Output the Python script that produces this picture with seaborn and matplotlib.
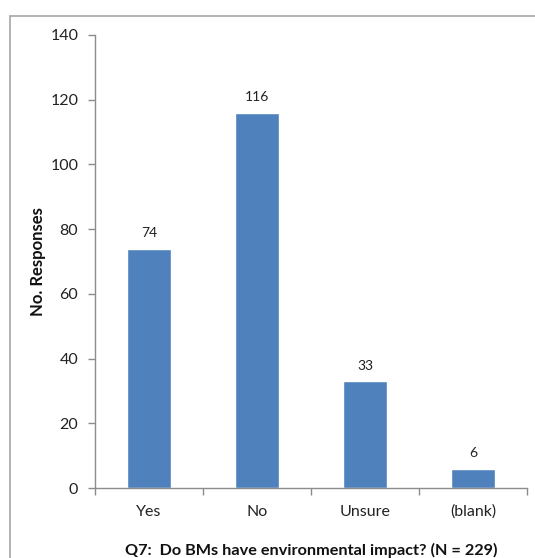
import matplotlib
matplotlib.use("Agg")
import matplotlib.pyplot as plt
from matplotlib.patches import Rectangle
import seaborn as sns
import pandas as pd

categories = ["Yes", "No", "Unsure", "(blank)"]
responses = [74, 116, 33, 6]
y_ticks = [0, 20, 40, 60, 80, 100, 120, 140]

sns.set_theme(style="white")
plt.rcParams["font.family"] = ["Lato", "DejaVu Sans"]

df = pd.DataFrame({"answer": categories, "count": responses})

fig = plt.figure(figsize=(5.35, 5.58), dpi=100)
ax = fig.add_axes([95 / 535, 1 - 488 / 558, (527 - 95) / 535, (488 - 35) / 558])

sns.barplot(data=df, x="answer", y="count", color="#4F81BD", saturation=1,
            width=0.4, ax=ax)

for i, v in enumerate(responses):
    ax.text(i, v + 3, str(v), ha="center", va="bottom", fontsize=10, color="#222222")

ax.set_xlim(-0.5, len(categories) - 0.5)
ax.set_ylim(0, 140)
ax.set_yticks(y_ticks)
ax.set_yticklabels([str(t) for t in y_ticks], fontsize=11.5, color="#222222")

# category labels between the boundary tick marks
ax.set_xticks([i - 0.5 for i in range(len(categories) + 1)])
ax.set_xticklabels([""] * (len(categories) + 1))
ax.set_xticks(range(len(categories)), minor=True)
ax.set_xticklabels(categories, minor=True, fontsize=11.5, color="#222222")
ax.tick_params(axis="x", which="major", direction="out", length=5, width=1,
               color="#8C8C8C", bottom=True)
ax.tick_params(axis="x", which="minor", length=0, pad=12)
ax.tick_params(axis="y", direction="out", length=5, width=1, color="#8C8C8C",
               left=True, pad=7)

for side in ("top", "right"):
    ax.spines[side].set_visible(False)
for side in ("left", "bottom"):
    ax.spines[side].set_color("#8C8C8C")
    ax.spines[side].set_linewidth(1)

ax.set_ylabel("No. Responses", fontsize=12, fontweight="bold", labelpad=3,
              color="#111111")
ax.set_xlabel("Q7:  Do BMs have environmental impact? (N = 229)", fontsize=11.7,
              fontweight="bold", labelpad=17, color="#111111")

# chart area frame
fig.patches.append(Rectangle((9.5 / 535, -0.2), 2, 1 - 15.5 / 558 + 0.2,
                             transform=fig.transFigure, fill=False,
                             edgecolor="#A6A6A6", linewidth=1.2))

fig.savefig("out.png", dpi=100)
